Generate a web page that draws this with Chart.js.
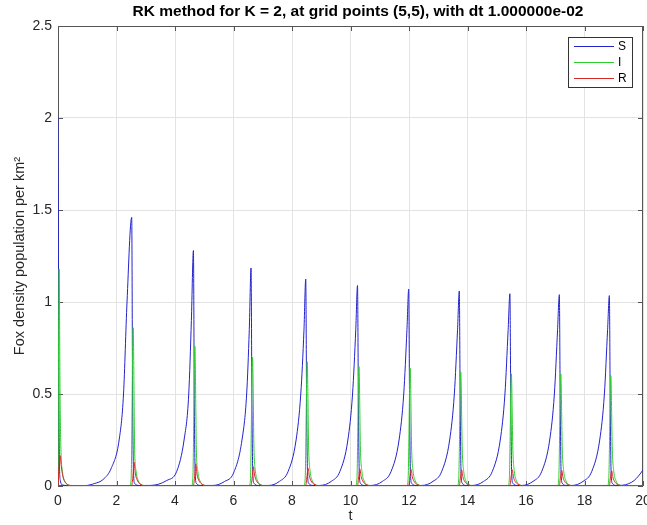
<!DOCTYPE html>
<html>
<head>
<meta charset="utf-8">
<script src="https://cdn.jsdelivr.net/npm/chart.js@4.4.1/dist/chart.umd.min.js"></script>
<style>
    html, body { margin: 0; padding: 0; background: #ffffff; }
    #wrap { width: 647px; height: 525px; }
</style>
</head>
<body>
<div id="wrap"><canvas id="sirChart" width="647" height="525"></canvas></div>
<script>
// Fox SIR populations, RK integration at grid point (5,5)

const titleText = 'RK method for K = 2, at grid points (5,5), with dt 1.000000e-02';
const seriesLabels = ['S', 'I', 'R'];
const xTicks = [0, 2, 4, 6, 8, 10, 12, 14, 16, 18, 20];
const yTicks = [0, 0.5, 1, 1.5, 2, 2.5];

// susceptible
const sTime = [
    0, 0.015, 0.03, 0.05, 0.08, 0.15, 0.5,
    0.92, 1.26, 1.54, 1.83, 2.09, 2.24, 2.36, 2.52, 2.55, 2.58, 2.62, 2.77,
    3.14, 3.72, 4.06, 4.31, 4.47, 4.56, 4.63, 4.66, 4.69, 4.73, 4.88,
    5.3, 5.7, 6.0, 6.29, 6.45, 6.54, 6.60, 6.63, 6.66, 6.70, 6.85,
    7.2, 7.57, 7.87, 8.14, 8.30, 8.41, 8.47, 8.50, 8.53, 8.57, 8.72,
    8.95, 9.34, 9.64, 9.91, 10.07, 10.18, 10.24, 10.27, 10.30, 10.34, 10.49,
    10.7, 11.09, 11.39, 11.66, 11.82, 11.93, 11.99, 12.02, 12.05, 12.09, 12.24,
    12.43, 12.82, 13.12, 13.39, 13.55, 13.66, 13.72, 13.75, 13.78, 13.82, 13.97,
    14.16, 14.55, 14.85, 15.12, 15.28, 15.39, 15.45, 15.48, 15.51, 15.55, 15.70,
    15.85, 16.24, 16.54, 16.81, 16.97, 17.08, 17.14, 17.17, 17.20, 17.24, 17.39,
    17.56, 17.95, 18.25, 18.52, 18.68, 18.79, 18.85, 18.88, 18.91, 18.95, 19.10,
    19.3, 19.5, 19.7, 19.85, 20.0
];
const sValue = [
    2.0, 1.3, 0.5, 0.12, 0.03, 0.006, 0.001,
    0.002, 0.014, 0.035, 0.1, 0.25, 0.5, 1.0, 1.46, 0.5, 0.08, 0.015, 0.003,
    0.003, 0.03, 0.08, 0.25, 0.5, 0.9, 1.28, 0.45, 0.07, 0.015, 0.003,
    0.003, 0.025, 0.07, 0.25, 0.5, 0.85, 1.185, 0.45, 0.07, 0.015, 0.003,
    0.003, 0.025, 0.08, 0.25, 0.5, 0.85, 1.125, 0.45, 0.07, 0.015, 0.003,
    0.003, 0.025, 0.08, 0.25, 0.5, 0.85, 1.09, 0.45, 0.07, 0.015, 0.003,
    0.003, 0.025, 0.08, 0.25, 0.5, 0.85, 1.07, 0.45, 0.07, 0.015, 0.003,
    0.003, 0.025, 0.08, 0.25, 0.5, 0.85, 1.06, 0.45, 0.07, 0.015, 0.003,
    0.003, 0.025, 0.08, 0.25, 0.5, 0.85, 1.045, 0.45, 0.07, 0.015, 0.003,
    0.003, 0.025, 0.08, 0.25, 0.5, 0.85, 1.04, 0.45, 0.07, 0.015, 0.003,
    0.003, 0.025, 0.08, 0.25, 0.5, 0.85, 1.035, 0.45, 0.07, 0.015, 0.003,
    0.004, 0.012, 0.03, 0.055, 0.087
];

// infected
const iTime = [
    0, 0.02, 0.04, 0.07, 0.1, 0.15, 0.22, 0.32, 0.5,
    2.46, 2.50, 2.57, 2.62, 2.67, 2.74, 2.84, 3.02,
    4.57, 4.61, 4.68, 4.73, 4.78, 4.85, 4.95, 5.13,
    6.54, 6.58, 6.65, 6.70, 6.75, 6.82, 6.92, 7.10,
    8.41, 8.45, 8.52, 8.57, 8.62, 8.69, 8.79, 8.97,
    10.18, 10.22, 10.29, 10.34, 10.39, 10.46, 10.56, 10.74,
    11.93, 11.97, 12.04, 12.09, 12.14, 12.21, 12.31, 12.49,
    13.66, 13.70, 13.77, 13.82, 13.87, 13.94, 14.04, 14.22,
    15.39, 15.43, 15.50, 15.55, 15.60, 15.67, 15.77, 15.95,
    17.08, 17.12, 17.19, 17.24, 17.29, 17.36, 17.46, 17.64,
    18.79, 18.83, 18.90, 18.95, 19.00, 19.07, 19.17, 19.35,
    20.0
];
const iValue = [
    0.05, 0.8, 1.18, 0.5, 0.2, 0.08, 0.03, 0.008, 0.001,
    0.002, 0.04, 0.86, 0.2, 0.08, 0.03, 0.008, 0.001,
    0.002, 0.04, 0.76, 0.2, 0.08, 0.03, 0.008, 0.001,
    0.002, 0.04, 0.70, 0.2, 0.08, 0.03, 0.008, 0.001,
    0.002, 0.04, 0.675, 0.2, 0.08, 0.03, 0.008, 0.001,
    0.002, 0.04, 0.65, 0.2, 0.08, 0.03, 0.008, 0.001,
    0.002, 0.04, 0.64, 0.2, 0.08, 0.03, 0.008, 0.001,
    0.002, 0.04, 0.62, 0.2, 0.08, 0.03, 0.008, 0.001,
    0.002, 0.04, 0.61, 0.2, 0.08, 0.03, 0.008, 0.001,
    0.002, 0.04, 0.61, 0.2, 0.08, 0.03, 0.008, 0.001,
    0.002, 0.04, 0.60, 0.2, 0.08, 0.03, 0.008, 0.001,
    0.001
];

// recovered
const rTime = [
    0, 0.03, 0.07, 0.11, 0.17, 0.26, 0.4, 0.6,
    2.52, 2.56, 2.60, 2.64, 2.70, 2.80, 2.97,
    4.63, 4.67, 4.71, 4.75, 4.81, 4.91, 5.08,
    6.60, 6.64, 6.68, 6.72, 6.78, 6.88, 7.05,
    8.47, 8.51, 8.55, 8.59, 8.65, 8.75, 8.92,
    10.24, 10.28, 10.32, 10.36, 10.42, 10.52, 10.69,
    11.99, 12.03, 12.07, 12.11, 12.17, 12.27, 12.44,
    13.72, 13.76, 13.80, 13.84, 13.90, 14.00, 14.17,
    15.45, 15.49, 15.53, 15.57, 15.63, 15.73, 15.90,
    17.14, 17.18, 17.22, 17.26, 17.32, 17.42, 17.59,
    18.85, 18.89, 18.93, 18.97, 19.03, 19.13, 19.30,
    20.0
];
const rValue = [
    0.0, 0.09, 0.165, 0.11, 0.05, 0.018, 0.004, 0.001,
    0.003, 0.05, 0.13, 0.07, 0.035, 0.012, 0.002,
    0.003, 0.05, 0.12, 0.065, 0.032, 0.011, 0.002,
    0.003, 0.05, 0.105, 0.06, 0.03, 0.01, 0.002,
    0.003, 0.05, 0.096, 0.055, 0.028, 0.01, 0.002,
    0.003, 0.05, 0.092, 0.053, 0.027, 0.009, 0.002,
    0.003, 0.05, 0.09, 0.052, 0.026, 0.009, 0.002,
    0.003, 0.05, 0.089, 0.051, 0.026, 0.009, 0.002,
    0.003, 0.05, 0.088, 0.05, 0.025, 0.009, 0.002,
    0.003, 0.05, 0.086, 0.05, 0.025, 0.009, 0.002,
    0.003, 0.05, 0.083, 0.048, 0.024, 0.008, 0.002,
    0.001
];

const seriesColors = ['rgb(35, 35, 205)', 'rgb(45, 205, 45)', 'rgb(215, 40, 40)'];
const fontFamily = '"Liberation Sans", Arial, Helvetica, sans-serif';
const axisColor = '#262626';

function toPoints(times, values) {
    return times.map((t, i) => ({ x: t, y: values[i] }));
}

// box around the axes with inward tick marks, drawn under the lines
const axesBox = {
    id: 'axesBox',
    beforeDatasetsDraw(chart) {
        const { ctx, chartArea: a, scales } = chart;
        const len = 5;
        ctx.save();
        ctx.strokeStyle = '#555555';
        ctx.lineWidth = 1;
        ctx.strokeRect(a.left + 0.5, a.top + 0.5, a.width - 1, a.height - 1);
        ctx.beginPath();
        xTicks.forEach(v => {
            const x = Math.round(scales.x.getPixelForValue(v)) + 0.5;
            ctx.moveTo(x, a.bottom); ctx.lineTo(x, a.bottom - len);
            ctx.moveTo(x, a.top); ctx.lineTo(x, a.top + len);
        });
        yTicks.forEach(v => {
            const y = Math.round(scales.y.getPixelForValue(v)) + 0.5;
            ctx.moveTo(a.left, y); ctx.lineTo(a.left + len, y);
            ctx.moveTo(a.right, y); ctx.lineTo(a.right - len, y);
        });
        ctx.stroke();
        ctx.restore();
    },
    afterDraw(chart) {
        const { ctx } = chart;
        ctx.save();

        // title
        ctx.fillStyle = '#000000';
        ctx.font = 'bold 15.5px ' + fontFamily;
        ctx.textAlign = 'center';
        ctx.textBaseline = 'middle';
        ctx.fillText(titleText, 358, 12);

        // legend box
        const bx = 568.5, by = 37.5, bw = 64, bh = 50;
        ctx.fillStyle = '#ffffff';
        ctx.fillRect(bx, by, bw, bh);
        ctx.strokeStyle = '#333333';
        ctx.lineWidth = 1;
        ctx.strokeRect(bx, by, bw, bh);
        ctx.font = '12px ' + fontFamily;
        ctx.textAlign = 'left';
        chart.data.datasets.forEach((ds, i) => {
            const y = 46 + i * 16;
            ctx.strokeStyle = ds.borderColor;
            ctx.beginPath();
            ctx.moveTo(574, y + 0.5);
            ctx.lineTo(614, y + 0.5);
            ctx.stroke();
            ctx.fillStyle = '#000000';
            ctx.fillText(ds.label, 618, y + 1);
        });
        ctx.restore();
    }
};

function initSirChart() {
    const ctx = document.getElementById('sirChart');
    const lineStyle = (label, color, times, values, order) => ({
        label,
        data: toPoints(times, values),
        borderColor: color,
        borderWidth: 1,
        pointRadius: 0,
        fill: false,
        cubicInterpolationMode: 'monotone',
        order
    });

    new Chart(ctx, {
        type: 'line',
        data: {
            datasets: [
                lineStyle(seriesLabels[0], seriesColors[0], sTime, sValue, 3),
                lineStyle(seriesLabels[1], seriesColors[1], iTime, iValue, 2),
                lineStyle(seriesLabels[2], seriesColors[2], rTime, rValue, 1)
            ]
        },
        options: {
            responsive: false,
            animation: false,
            layout: { padding: { top: 26, right: 4, left: 0, bottom: 0 } },
            plugins: {
                legend: { display: false },
                title: { display: false },
                tooltip: { enabled: false }
            },
            scales: {
                x: {
                    type: 'linear',
                    min: 0,
                    max: 20,
                    afterBuildTicks: s => { s.ticks = xTicks.map(v => ({ value: v })); },
                    afterFit: s => {
                        s.height = 39;
                        s.paddingLeft = 0;
                        s.paddingRight = 0;
                    },
                    grid: { color: '#e3e3e3', drawTicks: false },
                    border: { display: false },
                    ticks: {
                        color: axisColor,
                        padding: 7,
                        maxRotation: 0,
                        font: { family: fontFamily, size: 14 },
                        callback: v => String(v)
                    },
                    title: {
                        display: true,
                        text: 't',
                        color: axisColor,
                        padding: { top: 0, bottom: 0 },
                        font: { family: fontFamily, size: 14.5 }
                    }
                },
                y: {
                    min: 0,
                    max: 2.5,
                    afterBuildTicks: s => { s.ticks = yTicks.map(v => ({ value: v })); },
                    afterFit: s => {
                        s.width = 58;
                        s.paddingTop = 0;
                        s.paddingBottom = 0;
                    },
                    grid: { color: '#e3e3e3', drawTicks: false },
                    border: { display: false },
                    ticks: {
                        color: axisColor,
                        padding: 6,
                        font: { family: fontFamily, size: 14 },
                        callback: v => String(v)
                    },
                    title: {
                        display: true,
                        text: 'Fox density population per km²',
                        color: axisColor,
                        padding: { top: 11, bottom: 0 },
                        font: { family: fontFamily, size: 14.5 }
                    }
                }
            }
        },
        plugins: [axesBox]
    });
}

initSirChart();
</script>
</body>
</html>
